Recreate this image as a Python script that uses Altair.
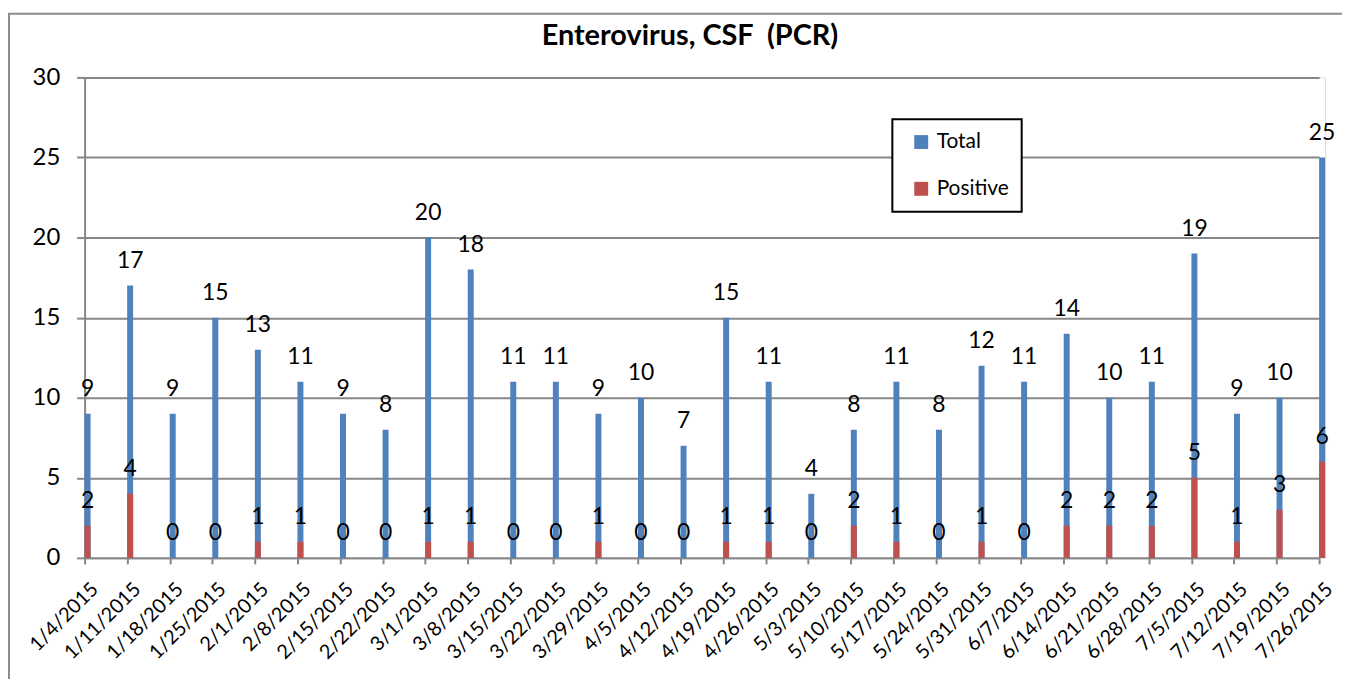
import altair as alt
import pandas as pd

dates = ["1/4/2015", "1/11/2015", "1/18/2015", "1/25/2015", "2/1/2015", "2/8/2015",
         "2/15/2015", "2/22/2015", "3/1/2015", "3/8/2015", "3/15/2015", "3/22/2015",
         "3/29/2015", "4/5/2015", "4/12/2015", "4/19/2015", "4/26/2015", "5/3/2015",
         "5/10/2015", "5/17/2015", "5/24/2015", "5/31/2015", "6/7/2015", "6/14/2015",
         "6/21/2015", "6/28/2015", "7/5/2015", "7/12/2015", "7/19/2015", "7/26/2015"]
total = [9, 17, 9, 15, 13, 11, 9, 8, 20, 18, 11, 11, 9, 10, 7, 15, 11, 4, 8, 11,
         8, 12, 11, 14, 10, 11, 19, 9, 10, 25]
positive = [2, 4, 0, 0, 1, 1, 0, 0, 1, 1, 0, 0, 1, 0, 0, 1, 1, 0, 2, 1,
            0, 1, 0, 2, 2, 2, 5, 1, 3, 6]
series = ["Total", "Positive"]
colors = ["#4F81BD", "#C0504D"]

df_total = pd.DataFrame({"date": dates, "value": total, "series": "Total"})
df_pos = pd.DataFrame({"date": dates, "value": positive, "series": "Positive"})

FONT = "Lato"
W, H = 1247, 483

x = alt.X("date:N", sort=dates, title=None,
          scale=alt.Scale(type="point", padding=0, range=[0, W - 6]),
          axis=alt.Axis(labelAngle=-45, labelFontSize=20, labelFont=FONT, labelColor="black",
                        tickColor="#878787", tickSize=6, tickWidth=2, domainColor="#878787",
                        domainWidth=2, labelPadding=15, labelOffset=3, grid=False,
                        labelOverlap=False))
y = alt.Y("value:Q", title=None,
          scale=alt.Scale(domain=[0, 30], nice=False),
          axis=alt.Axis(values=[0, 5, 10, 15, 20, 25, 30], labelFontSize=24, labelFont=FONT,
                        labelColor="black", tickColor="#878787", tickSize=8, tickWidth=2,
                        domainColor="#878787", domainWidth=2, gridColor="#878787",
                        gridWidth=2, labelPadding=17))
color = alt.Color("series:N", scale=alt.Scale(domain=series, range=colors),
                  legend=alt.Legend(title=None, orient="none", legendX=812, legendY=42,
                                    fillColor="white", strokeColor="black",
                                    padding=12.5, rowPadding=25, symbolType="square",
                                    symbolSize=196, symbolStrokeWidth=0, labelFontSize=21,
                                    labelFont=FONT, labelColor="black", symbolOffset=6,
                                    labelOffset=5, titlePadding=0))

bars_total = alt.Chart(df_total).mark_bar(size=6, xOffset=3).encode(x=x, y=y, color=color)
bars_pos = alt.Chart(df_pos).mark_bar(size=6, xOffset=3).encode(x=x, y=y, color=color)
lab_total = alt.Chart(df_total).mark_text(xOffset=3, dy=-18, baseline="alphabetic",
                                          fontSize=23, font=FONT, color="black").encode(
    x=x, y=y, text="value:Q")
lab_pos = alt.Chart(df_pos).mark_text(xOffset=3, dy=-18, baseline="alphabetic",
                                      fontSize=23, font=FONT, color="black").encode(
    x=x, y=y, text="value:Q")

border = alt.Chart(alt.Data(values=[{}])).mark_rect(
    fill=None, stroke="#8c8c8c", strokeWidth=2).encode(
    x=alt.value(-76), x2=alt.value(1290), y=alt.value(-64), y2=alt.value(720))

chart = alt.layer(border, bars_total, bars_pos, lab_total, lab_pos).properties(
    width=W, height=H,
    title=alt.TitleParams("Enterovirus, CSF\u00a0 (PCR)", fontSize=29, font=FONT,
                          fontWeight="bold", color="black", anchor="middle", dx=-15,
                          baseline="alphabetic", offset=-33, dy=28),
    autosize=alt.AutoSizeParams(type="none"),
    padding={"left": 77, "top": 68, "right": 17, "bottom": 120},
).configure_view(fill="#DCE6F2", strokeWidth=0, stroke="transparent").configure(
    background="white").configure_legend(strokeWidth=2)

chart.save("out.html", embed_options={"renderer": "svg", "actions": False})
